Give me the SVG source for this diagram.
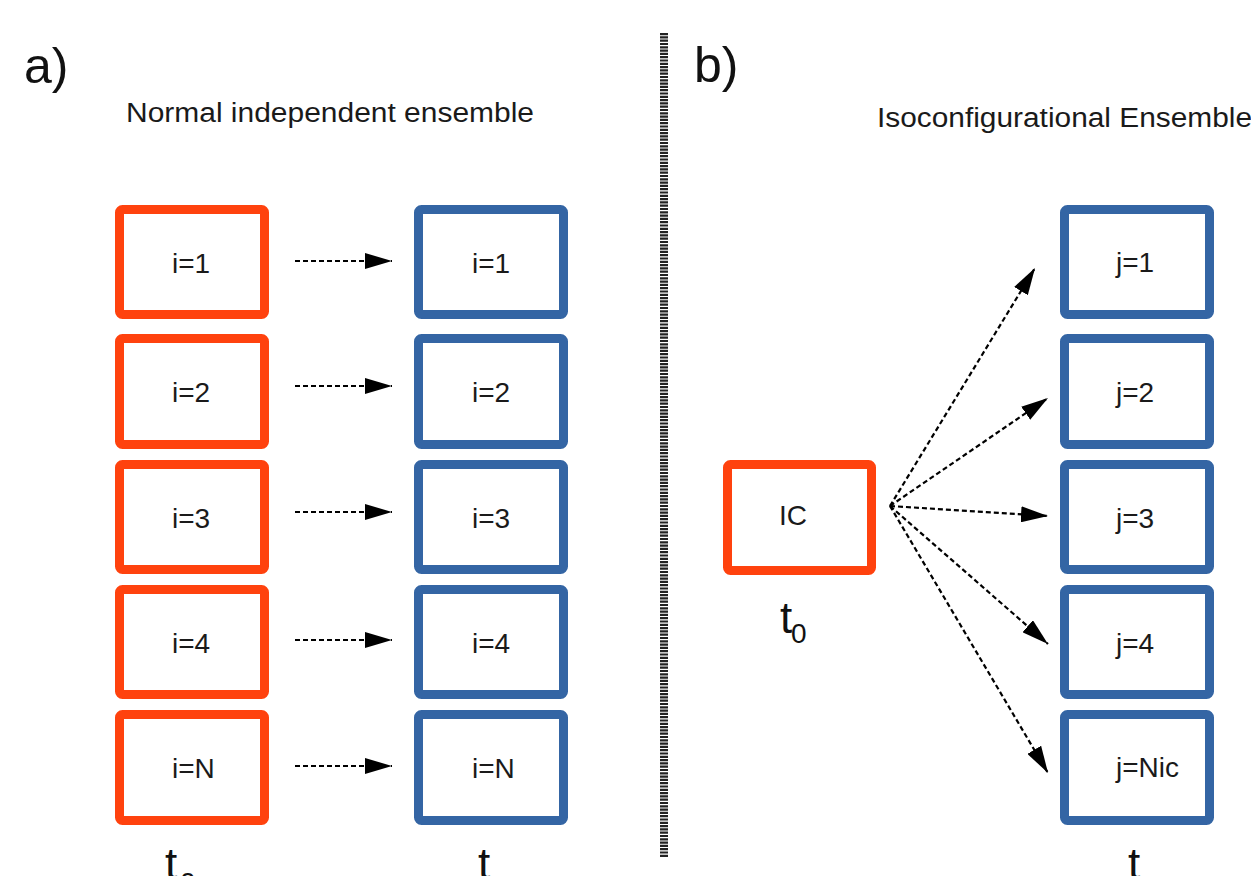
<svg xmlns="http://www.w3.org/2000/svg" width="1251" height="876" viewBox="0 0 1251 876">
<style>
.red{fill:#ffffff;stroke:#ff420e;stroke-width:9}
.blue{fill:#ffffff;stroke:#3465a4;stroke-width:9}
.lbl{font-family:"Liberation Sans",Arial,sans-serif;font-size:28px;fill:#1a1a1a}
.hdr{font-family:"Liberation Sans",Arial,sans-serif;font-size:27px;fill:#1a1a1a}
.big{font-family:"Liberation Sans",Arial,sans-serif;font-size:50px;fill:#111}
.tt{font-family:"Liberation Sans",Arial,sans-serif;font-size:44px;fill:#111}
.sub{font-family:"Liberation Sans",Arial,sans-serif;font-size:28px;fill:#111}
.arr{fill:none;stroke:#000;stroke-width:2.2;stroke-dasharray:5 3;marker-end:url(#ah)}
</style>
<defs>
<marker id="ah" markerUnits="userSpaceOnUse" markerWidth="27" markerHeight="16" refX="27" refY="8" orient="auto">
<path d="M0,0 L27,8 L0,16 Z" fill="#000"/>
</marker>
</defs>
<rect width="1251" height="876" fill="#ffffff"/>
<line x1="664" y1="33" x2="664" y2="857" stroke="#222" stroke-width="8" stroke-dasharray="2.2 1.1"/>
<text class="big" x="24" y="83">a)</text>
<text class="big" x="694" y="82">b)</text>
<text class="hdr" x="126" y="122" textLength="408" lengthAdjust="spacingAndGlyphs">Normal independent ensemble</text>
<text class="hdr" x="877" y="127" textLength="375" lengthAdjust="spacingAndGlyphs">Isoconfigurational Ensemble</text>
<g id="a_t0_1"><rect class="red" x="119.5" y="209.5" width="145" height="105" rx="3"/><text class="lbl" x="172" y="273">i=1</text></g>
<g id="a_t0_2"><rect class="red" x="119.5" y="338.5" width="145" height="106" rx="3"/><text class="lbl" x="172" y="402">i=2</text></g>
<g id="a_t0_3"><rect class="red" x="119.5" y="464.5" width="145" height="105" rx="3"/><text class="lbl" x="172" y="528">i=3</text></g>
<g id="a_t0_4"><rect class="red" x="119.5" y="589.5" width="145" height="105" rx="3"/><text class="lbl" x="172" y="653">i=4</text></g>
<g id="a_t0_N"><rect class="red" x="119.5" y="714.5" width="145" height="106" rx="3"/><text class="lbl" x="172" y="778">i=N</text></g>
<g id="a_t_1"><rect class="blue" x="418.5" y="209.5" width="145" height="105" rx="3"/><text class="lbl" x="472" y="273">i=1</text></g>
<g id="a_t_2"><rect class="blue" x="418.5" y="338.5" width="145" height="106" rx="3"/><text class="lbl" x="472" y="402">i=2</text></g>
<g id="a_t_3"><rect class="blue" x="418.5" y="464.5" width="145" height="105" rx="3"/><text class="lbl" x="472" y="528">i=3</text></g>
<g id="a_t_4"><rect class="blue" x="418.5" y="589.5" width="145" height="105" rx="3"/><text class="lbl" x="472" y="653">i=4</text></g>
<g id="a_t_N"><rect class="blue" x="418.5" y="714.5" width="145" height="106" rx="3"/><text class="lbl" x="472" y="778">i=N</text></g>
<g id="b_IC"><rect class="red" x="727.5" y="464.5" width="144" height="106" rx="3"/><text class="lbl" x="779" y="525">IC</text></g>
<g id="b_t_1"><rect class="blue" x="1064.5" y="209.5" width="145" height="105" rx="3"/><text class="lbl" x="1116" y="272">j=1</text></g>
<g id="b_t_2"><rect class="blue" x="1064.5" y="338.5" width="145" height="106" rx="3"/><text class="lbl" x="1116" y="402">j=2</text></g>
<g id="b_t_3"><rect class="blue" x="1064.5" y="464.5" width="145" height="105" rx="3"/><text class="lbl" x="1116" y="528">j=3</text></g>
<g id="b_t_4"><rect class="blue" x="1064.5" y="589.5" width="145" height="105" rx="3"/><text class="lbl" x="1116" y="653">j=4</text></g>
<g id="b_t_Nic"><rect class="blue" x="1064.5" y="714.5" width="145" height="106" rx="3"/><text class="lbl" x="1116" y="777">j=Nic</text></g>
<g id="connectors">
<line class="arr" x1="295" y1="261" x2="392" y2="261"/>
<line class="arr" x1="295" y1="386" x2="392" y2="386"/>
<line class="arr" x1="295" y1="512" x2="392" y2="512"/>
<line class="arr" x1="295" y1="640" x2="392" y2="640"/>
<line class="arr" x1="295" y1="766" x2="392" y2="766"/>
<line class="arr" x1="890" y1="506" x2="1035" y2="268"/>
<line class="arr" x1="890" y1="506" x2="1048" y2="398"/>
<line class="arr" x1="890" y1="506" x2="1048" y2="516"/>
<line class="arr" x1="890" y1="506" x2="1048" y2="644"/>
<line class="arr" x1="890" y1="506" x2="1048" y2="773"/>
</g>
<text class="tt" x="780" y="633">t</text><text class="sub" x="791" y="643">0</text>
<text class="tt" x="165" y="879">t</text><text class="sub" x="180" y="892">0</text>
<text class="tt" x="478" y="879">t</text>
<text class="tt" x="1128" y="879">t</text>
</svg>
